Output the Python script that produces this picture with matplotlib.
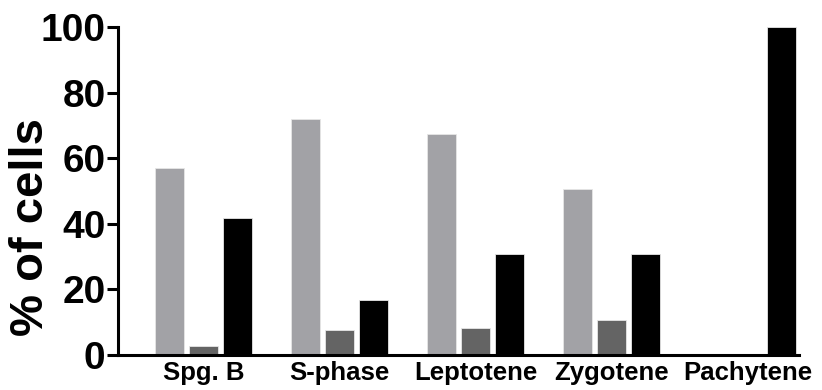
import numpy as np
import matplotlib.pyplot as plt

plt.rcParams['font.family'] = ['Liberation Sans', 'DejaVu Sans']
plt.rcParams['font.weight'] = 'bold'

stages = ['Spg. B', 'S-phase', 'Leptotene', 'Zygotene', 'Pachytene']
light = [57, 72, 67.5, 50.6, 0]
dark = [2.8, 7.5, 8.1, 10.8, 0]
black = [41.8, 16.7, 30.7, 30.7, 100]

x = np.arange(len(stages))
w = 0.213
off = 0.25

fig = plt.figure(figsize=(8.22, 3.9), dpi=100)
ax = fig.add_axes([0.1436, 0.0897, 0.8284, 0.8413])

ax.bar(x - off, light, w, color='#a2a2a6', edgecolor='#e6e6e6', linewidth=0.6)
ax.bar(x, dark, w, color='#646464', edgecolor='#e6e6e6', linewidth=0.6)
ax.bar(x + off, black, w, color='black', edgecolor='#e6e6e6', linewidth=0.6)

ax.set_xlim(-0.63, 4.38)
ax.set_ylim(0, 100)
ax.set_yticks([0, 20, 40, 60, 80, 100])
ax.set_xticks(x)
ax.set_xticklabels(stages, fontsize=18.5, fontweight='bold')
ax.tick_params(axis='x', length=0, pad=4)
ax.tick_params(axis='y', length=8, width=2.2, labelsize=28, pad=1)
for lab in ax.get_yticklabels():
    lab.set_fontweight('bold')
ax.set_ylabel('% of cells', fontsize=34, fontweight='bold')
ax.yaxis.set_label_coords(-0.095, 0.39)

for s in ['top', 'right']:
    ax.spines[s].set_visible(False)
for s in ['left', 'bottom']:
    ax.spines[s].set_linewidth(2.2)

fig.savefig('out.png', dpi=100)
